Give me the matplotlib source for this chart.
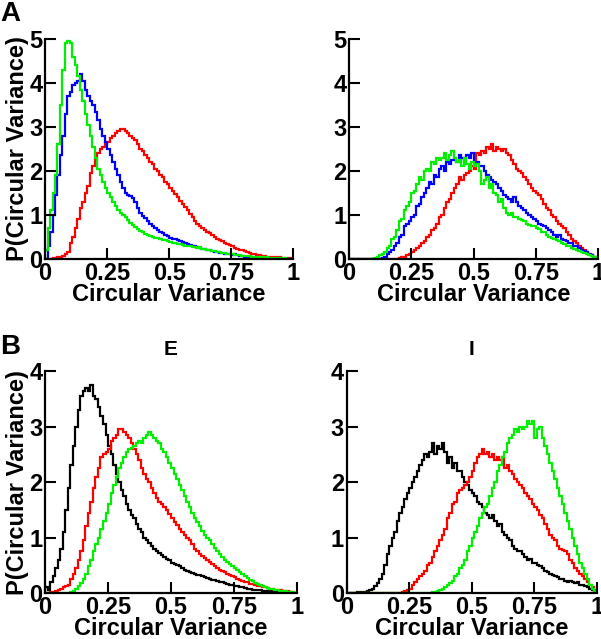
import numpy as np
import matplotlib
matplotlib.use("Agg")
from matplotlib import pyplot as plt

plt.rcParams["font.family"] = ["Liberation Sans", "DejaVu Sans"]
plt.rcParams["font.weight"] = "bold"

# 100 bins on [0, 1]
edges = np.linspace(0, 1, 101)

# --- panel A, left ---
a1_green = [0.2, 0.7, 1.1, 1.5, 1.9, 2.6, 3.5, 4.3, 4.9, 4.95,
            4.9, 4.6, 4.4, 4.15, 3.85, 3.6, 3.3, 3.05, 2.8, 2.55,
            2.3, 2.05, 1.9, 1.75, 1.62, 1.5, 1.4, 1.3, 1.2, 1.12,
            1.05, 1.0, 0.95, 0.88, 0.82, 0.77, 0.72, 0.68, 0.64, 0.6,
            0.57, 0.55, 0.52, 0.5, 0.48, 0.47, 0.45, 0.43, 0.42, 0.4,
            0.38, 0.37, 0.36, 0.34, 0.33, 0.32, 0.3, 0.3, 0.29, 0.27,
            0.26, 0.25, 0.26, 0.23, 0.22, 0.2, 0.19, 0.18, 0.17, 0.16,
            0.15, 0.14, 0.13, 0.12, 0.11, 0.1, 0.09, 0.09, 0.08, 0.07,
            0.07, 0.06, 0.06, 0.05, 0.05, 0.04, 0.04, 0.03, 0.03, 0.03,
            0.02, 0.02, 0.02, 0.015, 0.01, 0.01, 0.01, 0.005, 0.005, 0.0]
a1_blue = [0.0, 0.3, 0.6, 1.0, 1.45, 1.9, 2.35, 2.8, 3.3, 3.7,
           3.8, 3.95, 4.0, 4.05, 4.2, 4.05, 3.85, 3.7, 3.6, 3.5,
           3.35, 3.15, 2.95, 2.8, 2.65, 2.5, 2.35, 2.2, 2.05, 1.9,
           1.75, 1.6, 1.5, 1.45, 1.42, 1.38, 1.3, 1.15, 1.05, 0.98,
           0.92, 0.86, 0.8, 0.75, 0.7, 0.65, 0.62, 0.58, 0.55, 0.52,
           0.48, 0.46, 0.44, 0.42, 0.4, 0.38, 0.36, 0.34, 0.32, 0.3,
           0.28, 0.26, 0.25, 0.23, 0.22, 0.2, 0.19, 0.18, 0.16, 0.15,
           0.14, 0.13, 0.12, 0.11, 0.1, 0.09, 0.1, 0.08, 0.07, 0.06,
           0.05, 0.05, 0.04, 0.03, 0.03, 0.02, 0.0, 0.0, 0.0, 0.0,
           0.0, 0.0, 0.0, 0.0, 0.0, 0.0, 0.0, 0.0, 0.0, 0.0]
a1_red = [0.0, 0.0, 0.0, 0.01, 0.02, 0.03, 0.04, 0.06, 0.1, 0.15,
          0.35, 0.5, 0.7, 0.9, 1.15, 1.3, 1.5, 1.65, 1.95, 2.1,
          2.25, 2.4, 2.5, 2.55, 2.6, 2.65, 2.75, 2.8, 2.85, 2.9,
          2.95, 2.95, 2.9, 2.85, 2.8, 2.75, 2.7, 2.6, 2.5, 2.45,
          2.35, 2.3, 2.2, 2.15, 2.05, 2.0, 1.9, 1.85, 1.75, 1.7,
          1.62, 1.55, 1.48, 1.4, 1.32, 1.25, 1.18, 1.1, 1.02, 0.95,
          0.87, 0.8, 0.75, 0.7, 0.66, 0.62, 0.58, 0.55, 0.5, 0.46,
          0.43, 0.4, 0.37, 0.34, 0.31, 0.28, 0.25, 0.23, 0.21, 0.19,
          0.17, 0.15, 0.13, 0.12, 0.1, 0.09, 0.08, 0.07, 0.06, 0.05,
          0.05, 0.04, 0.04, 0.03, 0.03, 0.02, 0.02, 0.01, 0.01, 0.0]

# --- panel A, right ---
a2_green = [0.0] * 10 + [
            0.02, 0.05, 0.08, 0.1, 0.15, 0.25, 0.3, 0.45, 0.5, 0.65,
            0.85, 0.9, 1.1, 1.2, 1.3, 1.5, 1.55, 1.7, 1.85, 1.8,
            2.0, 2.05, 2.0, 2.2, 2.15, 2.3, 2.25, 2.3, 2.4, 2.25,
            2.35, 2.45, 2.3, 2.2, 2.25, 2.1, 2.3, 2.15, 2.05, 2.2,
            2.1, 2.15, 2.0, 1.7, 1.8, 1.85, 1.6, 1.7, 1.5, 1.45,
            1.3, 1.35, 1.15, 1.05, 1.0, 1.05, 0.95, 0.95, 0.9, 0.88,
            0.85, 0.8, 0.78, 0.75, 0.75, 0.7, 0.68, 0.62, 0.6, 0.55,
            0.5, 0.48, 0.45, 0.42, 0.4, 0.35, 0.33, 0.3, 0.28, 0.25,
            0.22, 0.2, 0.18, 0.15, 0.13, 0.1, 0.08, 0.06, 0.04, 0.02]
a2_blue = [0.0] * 10 + [
           0.0, 0.0, 0.0, 0.01, 0.05, 0.1, 0.15, 0.2, 0.3, 0.35,
           0.5, 0.55, 0.75, 0.8, 0.85, 0.95, 1.0, 1.2, 1.25, 1.4,
           1.5, 1.6, 1.75, 1.7, 1.9, 1.85, 2.05, 2.1, 2.0, 2.2,
           2.15, 2.25, 2.3, 2.2, 2.35, 2.3, 2.25, 2.35, 2.3, 2.4,
           2.2, 2.2, 2.1, 2.1, 2.0, 1.9, 1.85, 1.8, 1.75, 1.7,
           1.6, 1.55, 1.45, 1.4, 1.35, 1.3, 1.4, 1.3, 1.2, 1.15,
           1.1, 1.05, 1.0, 0.95, 0.9, 0.85, 0.8, 0.78, 0.75, 0.7,
           0.65, 0.6, 0.55, 0.5, 0.55, 0.45, 0.42, 0.4, 0.35, 0.35,
           0.3, 0.28, 0.25, 0.2, 0.18, 0.15, 0.12, 0.08, 0.05, 0.02]
a2_red = [0.0] * 20 + [
          0.02, 0.05, 0.05, 0.08, 0.1, 0.15, 0.2, 0.25, 0.3, 0.35,
          0.4, 0.5, 0.55, 0.65, 0.7, 0.8, 0.95, 1.0, 1.15, 1.3,
          1.35, 1.5, 1.6, 1.7, 1.85, 1.8, 1.9, 1.95, 2.0, 2.1,
          2.05, 2.4, 2.35, 2.45, 2.4, 2.55, 2.5, 2.6, 2.45, 2.55,
          2.5, 2.45, 2.5, 2.4, 2.35, 2.25, 2.15, 2.05, 2.0, 1.95,
          1.85, 1.8, 1.7, 1.6, 1.55, 1.5, 1.45, 1.35, 1.25, 1.15,
          1.1, 1.0, 0.95, 0.85, 0.8, 0.75, 0.7, 0.6, 0.55, 0.45,
          0.4, 0.35, 0.3, 0.25, 0.2, 0.15, 0.12, 0.08, 0.04, 0.02]

# --- panel B, left (E) ---
b1_black = [0.1, 0.05, 0.2, 0.3, 0.45, 0.6, 0.8, 1.1, 1.5, 1.9,
            2.3, 2.65, 3.0, 3.3, 3.55, 3.65, 3.7, 3.65, 3.75, 3.55,
            3.5, 3.35, 3.2, 3.05, 2.85, 2.65, 2.5, 2.3, 2.15, 2.0,
            1.85, 1.75, 1.6, 1.5, 1.4, 1.35, 1.25, 1.15, 1.1, 1.0,
            0.95, 0.9, 0.85, 0.8, 0.75, 0.72, 0.68, 0.65, 0.62, 0.6,
            0.55, 0.52, 0.5, 0.48, 0.45, 0.42, 0.4, 0.38, 0.36, 0.35,
            0.33, 0.32, 0.3, 0.28, 0.27, 0.25, 0.24, 0.23, 0.21, 0.2,
            0.19, 0.18, 0.16, 0.15, 0.14, 0.13, 0.12, 0.11, 0.1, 0.09,
            0.08, 0.07, 0.06, 0.06, 0.05, 0.05, 0.04, 0.04, 0.03, 0.03,
            0.03, 0.02, 0.02, 0.02, 0.01, 0.01, 0.01, 0.01, 0.0, 0.0]
b1_red = [0.0, 0.0, 0.01, 0.02, 0.03, 0.05, 0.07, 0.1, 0.12, 0.15,
          0.25, 0.35, 0.45, 0.6, 0.75, 0.95, 1.2, 1.45, 1.65, 1.9,
          2.1, 2.25, 2.45, 2.5, 2.55, 2.6, 2.75, 2.8, 2.85, 2.95,
          2.95, 2.9, 2.85, 2.8, 2.7, 2.6, 2.5, 2.4, 2.25, 2.15,
          2.05, 2.0, 1.9, 1.8, 1.72, 1.65, 1.6, 1.55, 1.5, 1.42,
          1.35, 1.28, 1.22, 1.15, 1.1, 1.05, 1.0, 0.95, 0.88, 0.8,
          0.75, 0.7, 0.66, 0.63, 0.6, 0.56, 0.52, 0.48, 0.45, 0.42,
          0.4, 0.38, 0.35, 0.32, 0.3, 0.28, 0.26, 0.24, 0.22, 0.2,
          0.19, 0.17, 0.16, 0.14, 0.13, 0.12, 0.11, 0.1, 0.09, 0.08,
          0.07, 0.06, 0.05, 0.05, 0.04, 0.03, 0.03, 0.02, 0.01, 0.0]
b1_green = [0.0] * 10 + [
            0.01, 0.03, 0.08, 0.12, 0.18, 0.25, 0.35, 0.48, 0.6, 0.75,
            0.88, 1.0, 1.15, 1.3, 1.45, 1.6, 1.8, 1.95, 2.1, 2.25,
            2.35, 2.45, 2.55, 2.6, 2.62, 2.65, 2.7, 2.75, 2.7, 2.8,
            2.85, 2.9, 2.85, 2.8, 2.75, 2.7, 2.6, 2.55, 2.45, 2.35,
            2.25, 2.15, 2.05, 1.95, 1.85, 1.75, 1.65, 1.55, 1.45, 1.35,
            1.28, 1.2, 1.12, 1.05, 1.0, 0.95, 0.88, 0.82, 0.75, 0.7,
            0.65, 0.6, 0.56, 0.52, 0.48, 0.45, 0.42, 0.38, 0.34, 0.3,
            0.27, 0.24, 0.21, 0.18, 0.16, 0.14, 0.12, 0.1, 0.09, 0.08,
            0.07, 0.06, 0.05, 0.04, 0.03, 0.03, 0.02, 0.02, 0.01, 0.0]

# --- panel B, right (I) ---
b2_black = [0.0, 0.0, 0.0, 0.0, 0.01, 0.01, 0.02, 0.02, 0.03, 0.05,
            0.08, 0.12, 0.18, 0.25, 0.35, 0.5, 0.7, 0.85, 1.0, 1.1,
            1.3, 1.45, 1.55, 1.7, 1.8, 1.9, 2.0, 2.1, 2.2, 2.3,
            2.4, 2.5, 2.45, 2.55, 2.7, 2.5, 2.65, 2.6, 2.7, 2.55,
            2.35, 2.45, 2.25, 2.35, 2.2, 2.2, 2.1, 2.0, 1.95, 1.85,
            1.8, 1.75, 1.65, 1.6, 1.55, 1.45, 1.4, 1.35, 1.4, 1.3,
            1.2, 1.25, 1.1, 1.05, 1.0, 0.95, 0.85, 0.8, 0.75, 0.75,
            0.7, 0.65, 0.6, 0.62, 0.55, 0.55, 0.5, 0.48, 0.45, 0.4,
            0.38, 0.35, 0.33, 0.3, 0.28, 0.25, 0.25, 0.22, 0.2, 0.22,
            0.2, 0.18, 0.2, 0.15, 0.15, 0.12, 0.1, 0.08, 0.05, 0.02]
b2_red = [0.0] * 20 + [
          0.0, 0.0, 0.02, 0.04, 0.05, 0.08, 0.15, 0.2, 0.25, 0.3,
          0.35, 0.4, 0.5, 0.55, 0.65, 0.75, 0.85, 0.95, 1.05, 1.15,
          1.35, 1.45, 1.6, 1.65, 1.8, 1.85, 1.9, 1.95, 2.0, 2.1,
          2.2, 2.35, 2.45, 2.5, 2.6, 2.5, 2.55, 2.45, 2.5, 2.4,
          2.45, 2.4, 2.45, 2.25, 2.3, 2.2, 2.15, 2.05, 2.0, 1.95,
          1.9, 1.8, 1.75, 1.7, 1.6, 1.55, 1.5, 1.4, 1.35, 1.25,
          1.15, 1.05, 1.0, 0.95, 0.85, 0.8, 0.78, 0.75, 0.7, 0.6,
          0.55, 0.45, 0.4, 0.35, 0.3, 0.25, 0.2, 0.15, 0.1, 0.05]
b2_green = [0.0] * 30 + [
            0.0, 0.0, 0.0, 0.0, 0.01, 0.02, 0.03, 0.05, 0.08, 0.1,
            0.15, 0.18, 0.22, 0.3, 0.35, 0.45, 0.5, 0.6, 0.75, 0.85,
            1.0, 1.1, 1.2, 1.35, 1.45, 1.55, 1.6, 1.75, 1.9, 2.0,
            2.2, 2.3, 2.45, 2.55, 2.7, 2.8, 2.85, 2.95, 2.9, 3.0,
            2.95, 3.0, 3.1, 3.05, 3.1, 2.8, 2.95, 3.0, 2.8, 2.65,
            2.5, 2.35, 2.2, 2.05, 1.9, 1.75, 1.6, 1.45, 1.3, 1.15,
            1.0, 0.85, 0.7, 0.55, 0.45, 0.35, 0.25, 0.15, 0.08, 0.03]

xticks = [0, 0.25, 0.5, 0.75, 1]
xticklabels = ["0", "0.25", "0.5", "0.75", "1"]

RED, GREEN, BLUE, BLACK = "#ff0000", "#00ee00", "#0000ff", "#000000"
FS = 17

fig = plt.figure(figsize=(6.01, 6.39), dpi=100)


def style(ax, ymax):
    ax.set_xlim(0, 1)
    ax.set_ylim(0, ymax)
    ax.set_xticks(xticks)
    ax.set_xticklabels(xticklabels)
    ax.set_yticks(range(ymax + 1))
    for s in ["top", "right"]:
        ax.spines[s].set_visible(False)
    for s in ["left", "bottom"]:
        ax.spines[s].set_linewidth(1.6)
    ax.tick_params(direction="in", length=8, width=1.5, labelsize=FS, pad=2)
    for lab in ax.get_xticklabels() + ax.get_yticklabels():
        lab.set_fontweight("bold")
    ax.set_xlabel("Circular Variance", fontsize=FS, fontweight="bold", labelpad=-1)


panels = [
    ([0.075, 0.595, 0.413, 0.344], 5, [(a1_red, RED), (a1_blue, BLUE), (a1_green, GREEN)], True, None),
    ([0.581, 0.595, 0.414, 0.344], 5, [(a2_red, RED), (a2_blue, BLUE), (a2_green, GREEN)], False, None),
    ([0.075, 0.072, 0.419, 0.347], 4, [(b1_black, BLACK), (b1_red, RED), (b1_green, GREEN)], True, "E"),
    ([0.577, 0.072, 0.416, 0.347], 4, [(b2_black, BLACK), (b2_red, RED), (b2_green, GREEN)], False, "I"),
]

for rect, ymax, series, ylab, title in panels:
    ax = fig.add_axes(rect)
    for vals, col in series:
        ax.stairs(vals, edges, color=col, linewidth=1.6)
    style(ax, ymax)
    if ylab:
        ax.set_ylabel("P(Circular Variance)", fontsize=FS, fontweight="bold", labelpad=0)
    if title:
        ax.set_title(title, fontsize=15, fontweight="bold", pad=12)

fig.text(0.0, 0.998, "A", fontsize=20, fontweight="bold", va="top")
fig.text(0.0, 0.478, "B", fontsize=20, fontweight="bold", va="top")

fig.savefig("out.png", dpi=100)
